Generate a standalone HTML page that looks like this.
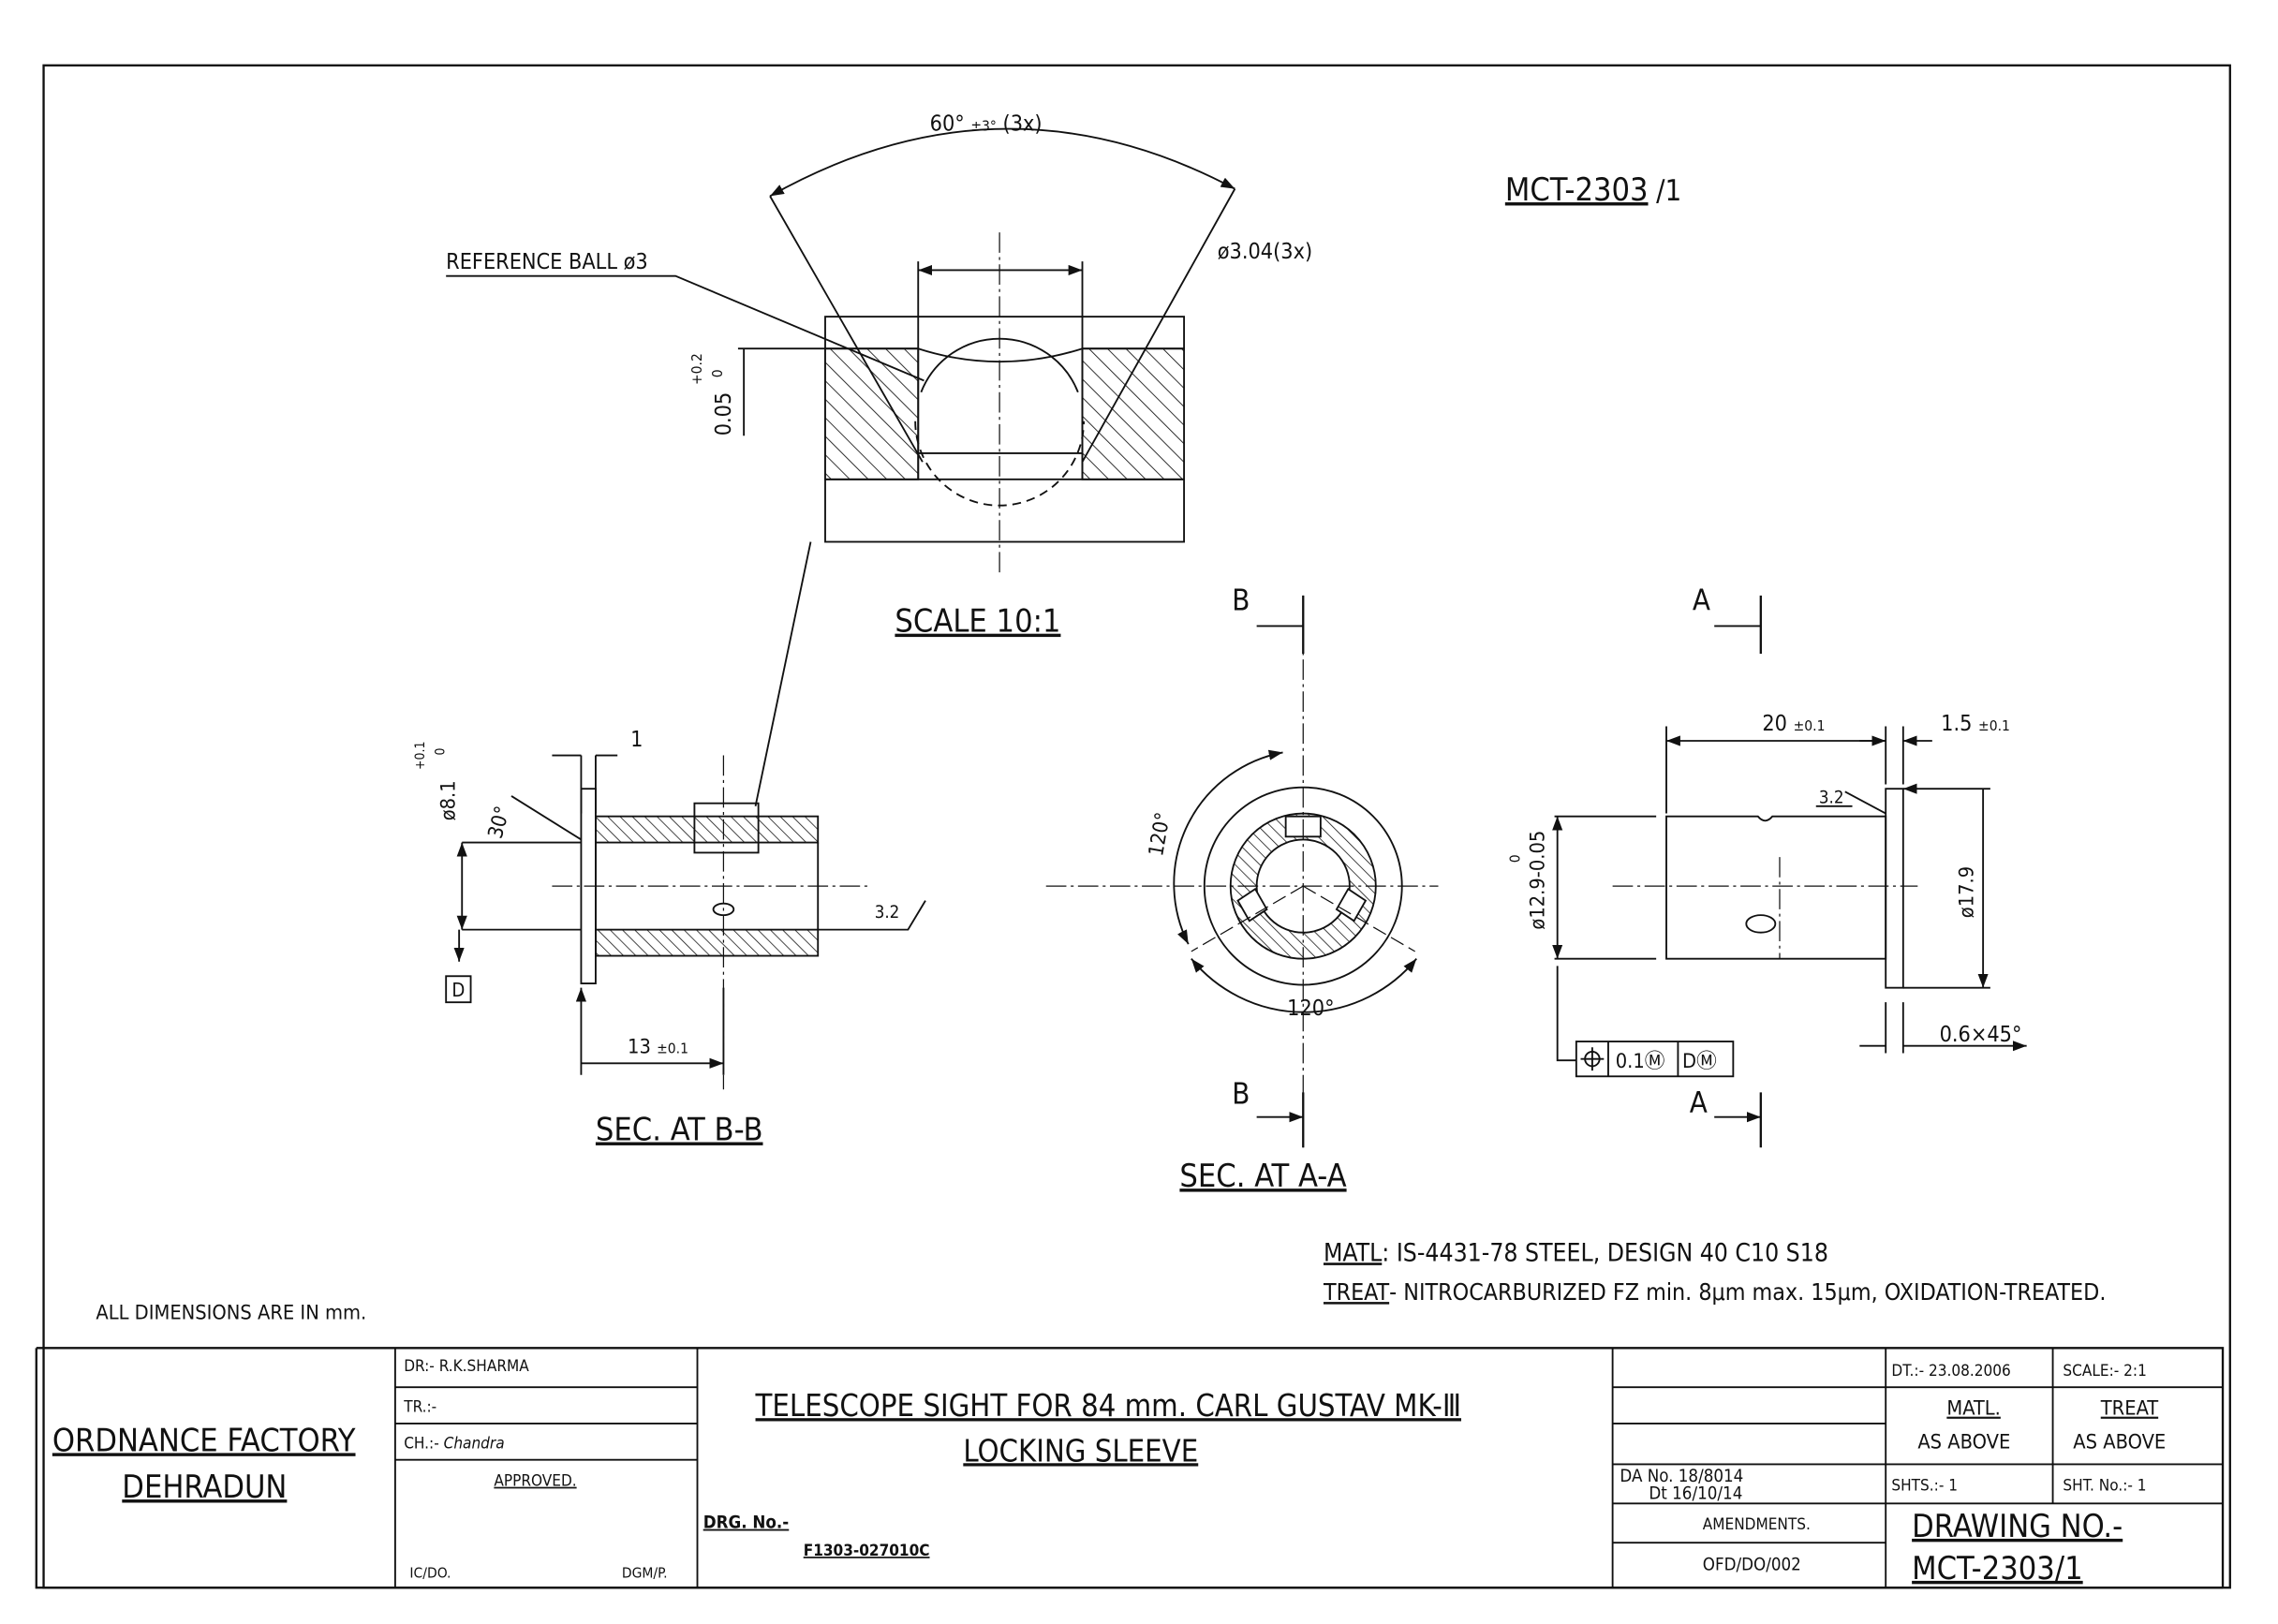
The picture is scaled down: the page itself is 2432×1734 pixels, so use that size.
<!DOCTYPE html>
<html><head><style>
html,body{margin:0;padding:0;background:#fff;}
svg{display:block}
text{font-family:"DejaVu Sans Condensed","Liberation Sans",sans-serif;fill:#111}
</style></head><body>
<svg width="2432" height="1734" viewBox="0 0 1568 1118" xmlns="http://www.w3.org/2000/svg">
<defs>
<pattern id="h" patternUnits="userSpaceOnUse" width="9" height="9" patternTransform="rotate(-45)">
<rect width="9" height="9" fill="#fff"/><line x1="0" y1="0" x2="0" y2="9" stroke="#111" stroke-width="1.1"/></pattern>
<pattern id="h2" patternUnits="userSpaceOnUse" width="6" height="6" patternTransform="rotate(-45)">
<rect width="6" height="6" fill="#fff"/><line x1="0" y1="0" x2="0" y2="6" stroke="#111" stroke-width="1"/></pattern>
<marker id="a" markerWidth="8" markerHeight="6" refX="8" refY="3" orient="auto-start-reverse"><path d="M0,0 L8,3 L0,6 z" fill="#111"/></marker>
</defs>
<g stroke="#111" fill="none" stroke-width="1.2">
<rect x="30" y="45" width="1505" height="1048" stroke-width="1.5"/>
<path d="M25 928 H1530 V1093 M25 928 V1093 H1530" stroke-width="1.5"/>
<path d="M272 928 V1093 M480 928 V1093 M1110 928 V1093 M1298 928 V1093 M1413 928 V1035"/>
<path d="M272 955 H480 M272 980 H480 M272 1005 H480"/>
<path d="M1110 955 H1298 M1110 980 H1298 M1110 1008 H1298 M1110 1035 H1298 M1110 1062 H1298"/>
<path d="M1298 955 H1530 M1298 1008 H1530 M1298 1035 H1530"/>

<!-- top detail -->
<rect x="568" y="218" width="247" height="155"/>
<rect x="568" y="240" width="64" height="90" fill="url(#h)"/>
<rect x="745" y="240" width="70" height="90" fill="url(#h)"/>
<path d="M568 240 H632 M745 240 H815 M568 330 H815 M632 312 H745"/>
<path d="M632 240 Q688 258 745 240"/>
<path d="M632 180 V330 M745 180 V330"/>
<path d="M634 270 A58 58 0 0 1 742 270"/>
<path d="M630 290 A58 58 0 0 0 746 290" stroke-dasharray="6 4"/>
<path d="M688 160 V395" stroke-dasharray="14 3 2 3" stroke-width="0.8"/>
<path d="M632 186 H745" marker-start="url(#a)" marker-end="url(#a)"/>
<path d="M530 135 Q690 45 850 130" marker-start="url(#a)" marker-end="url(#a)"/>
<path d="M530 135 L635 318 M850 130 L745 318"/>
<path d="M307 190 H465 L636 262"/>
<path d="M508 240 H568 M512 240 V300"/>
<path d="M558 373 L520 555"/>

<!-- section B-B -->
<path d="M400 543 H410 V677 H400 Z"/>
<rect x="410" y="562" width="153" height="18" fill="url(#h2)"/>
<rect x="410" y="640" width="153" height="18" fill="url(#h2)"/>
<rect x="478" y="553" width="44" height="34"/>
<path d="M410 562 V658 M563 580 V640"/>
<path d="M380 610 H600" stroke-dasharray="14 3 2 3" stroke-width="0.8"/>
<path d="M498 520 V750" stroke-dasharray="14 3 2 3" stroke-width="0.8"/>
<ellipse cx="498" cy="626" rx="7" ry="4"/>
<path d="M318 580 H400 M318 640 H400" />
<path d="M318 580 V640" marker-start="url(#a)" marker-end="url(#a)"/>
<path d="M352 548 L400 578 M380 520 H400 M410 520 H425"/>
<path d="M400 520 V560 M410 520 V560"/>
<path d="M400 680 V740 M498 680 V740 M400 732 H498" marker-start="url(#a)" marker-end="url(#a)"/>
<path d="M563 640 H625 L637 620"/>
<path d="M316 640 L316 662" marker-end="url(#a)"/>
<rect x="307" y="672" width="17" height="18"/>

<!-- section A-A -->
<circle cx="897" cy="610" r="68"/>
<circle cx="897" cy="610" r="50" fill="url(#h2)"/>
<circle cx="897" cy="610" r="32" fill="#fff"/>
<path d="M885 562 h24 v14 h-24z M852 620 l12 -8 l8 14 l-12 8z M940 620 l-12 -8 l-8 14 l12 8z" fill="#fff"/>
<path d="M897 410 V790 M720 610 H990" stroke-dasharray="14 3 2 3" stroke-width="0.8"/>
<path d="M897 610 L820 655 M897 610 L974 655" stroke-dasharray="10 4" stroke-width="0.8"/>
<path d="M883 518 A92 92 0 0 0 818 650" marker-start="url(#a)" marker-end="url(#a)"/>
<path d="M820 660 A100 100 0 0 0 975 660" marker-start="url(#a)" marker-end="url(#a)"/>
<path d="M865 431 H897 M865 769 H897" marker-end="url(#a)"/>
<path d="M1180 431 H1212 M1180 769 H1212" marker-end="url(#a)"/>
<path d="M1212 410 V450 M1212 752 V790" stroke-width="1.5"/>
<path d="M897 410 V450 M897 752 V790" stroke-width="1.5"/>

<!-- right view -->
<path d="M1147 562 H1210 Q1215 568 1220 562 H1298 V660 H1147 Z"/>
<rect x="1298" y="543" width="12" height="137"/>
<path d="M1110 610 H1320 M1225 590 V660" stroke-dasharray="14 3 2 3" stroke-width="0.8"/>
<ellipse cx="1212" cy="636" rx="10" ry="6"/>
<path d="M1147 500 V560 M1298 500 V540 M1310 500 V540"/>
<path d="M1147 510 H1298" marker-start="url(#a)" marker-end="url(#a)"/>
<path d="M1280 510 H1298 M1330 510 H1310" marker-end="url(#a)"/>
<path d="M1070 562 H1140 M1070 660 H1140"/>
<path d="M1072 562 V660" marker-start="url(#a)" marker-end="url(#a)"/>
<path d="M1310 543 H1370 M1310 680 H1370 M1365 543 V680" marker-start="url(#a)" marker-end="url(#a)"/>
<path d="M1270 545 L1298 560 M1250 555 H1275"/>
<path d="M1298 690 V725 M1310 690 V725 M1280 720 H1298 M1330 720 H1310 L1395 720" marker-end="url(#a)"/>
<path d="M1072 665 V730 H1085"/>
<rect x="1085" y="717" width="108" height="24"/>
<path d="M1107 717 V741 M1155 717 V741"/>
<circle cx="1096" cy="729" r="5"/><path d="M1096 721 V737 M1088 729 H1104"/>
</g>
<g font-size="15">
<text x="640" y="90">60° <tspan font-size="10">±3°</tspan> (3x)</text>
<text x="307" y="185">REFERENCE BALL ø3</text>
<text x="838" y="178">ø3.04(3x)</text>
<text transform="translate(503 300) rotate(-90)">0.05</text>
<text font-size="10" transform="translate(483 265) rotate(-90)">+0.2</text>
<text font-size="10" transform="translate(497 260) rotate(-90)">0</text>
<text x="1036" y="138" font-size="22" text-decoration="underline">MCT-2303</text><text x="1140" y="138" font-size="20">/1</text>
<text x="616" y="435" font-size="22" text-decoration="underline">SCALE 10:1</text>
<text x="848" y="420" font-size="20">B</text><text x="848" y="760" font-size="20">B</text>
<text x="1165" y="420" font-size="20">A</text><text x="1163" y="766" font-size="20">A</text>
<text x="434" y="514">1</text>
<text font-size="14" transform="translate(313 565) rotate(-90)">ø8.1</text>
<text font-size="9" transform="translate(292 530) rotate(-90)">+0.1</text>
<text font-size="9" transform="translate(306 520) rotate(-90)">0</text>
<text font-size="14" transform="translate(345 578) rotate(-75)">30°</text>
<text x="311" y="686" font-size="13">D</text>
<text x="602" y="632" font-size="12">3.2</text>
<text x="432" y="725" font-size="14">13 <tspan font-size="10">±0.1</tspan></text>
<text x="410" y="785" font-size="22" text-decoration="underline">SEC. AT B-B</text>
<text x="812" y="817" font-size="22" text-decoration="underline">SEC. AT A-A</text>
<text font-size="14" transform="translate(800 590) rotate(-80)">120°</text>
<text x="886" y="699">120°</text>
<text x="1213" y="503">20 <tspan font-size="10">±0.1</tspan></text>
<text x="1336" y="503">1.5 <tspan font-size="10">±0.1</tspan></text>
<text x="1252" y="553" font-size="12">3.2</text>
<text font-size="14" transform="translate(1063 640) rotate(-90)">ø12.9-0.05</text>
<text font-size="10" transform="translate(1046 594) rotate(-90)">0</text>
<text font-size="14" transform="translate(1358 632) rotate(-90)">ø17.9</text>
<text x="1335" y="717">0.6×45°</text>
<text x="1112" y="735" font-size="14">0.1Ⓜ</text><text x="1158" y="735" font-size="14">DⓂ</text>
<text x="911" y="868" font-size="17"><tspan text-decoration="underline">MATL</tspan>: IS-4431-78 STEEL, DESIGN 40 C10 S18</text>
<text x="911" y="895" font-size="16"><tspan text-decoration="underline">TREAT</tspan>- NITROCARBURIZED FZ min. 8μm max. 15μm, OXIDATION-TREATED.</text>
<text x="66" y="908" font-size="14">ALL DIMENSIONS ARE IN mm.</text>
<text x="36" y="999" font-size="22" text-decoration="underline">ORDNANCE FACTORY</text>
<text x="84" y="1031" font-size="22" text-decoration="underline">DEHRADUN</text>
<text x="278" y="944" font-size="11">DR:-  R.K.SHARMA</text>
<text x="278" y="972" font-size="11">TR.:-</text>
<text x="278" y="997" font-size="11">CH.:- <tspan font-style="italic">Chandra</tspan></text>
<text x="340" y="1023" font-size="11" text-decoration="underline">APPROVED.</text>
<text x="282" y="1086" font-size="10">IC/DO.</text><text x="428" y="1086" font-size="10">DGM/P.</text>
<text x="520" y="975" font-size="21" text-decoration="underline">TELESCOPE SIGHT FOR 84 mm. CARL GUSTAV MK-Ⅲ</text>
<text x="663" y="1006" font-size="21" text-decoration="underline">LOCKING SLEEVE</text>
<text x="484" y="1052" font-size="12" font-weight="bold" text-decoration="underline">DRG. No.-</text>
<text x="553" y="1071" font-size="11" font-weight="bold" text-decoration="underline">F1303-027010C</text>
<text x="1115" y="1020" font-size="12">DA No. 18/8014</text>
<text x="1135" y="1032" font-size="12">Dt 16/10/14</text>
<text x="1172" y="1053" font-size="11">AMENDMENTS.</text>
<text x="1172" y="1081" font-size="12">OFD/DO/002</text>
<text x="1302" y="947" font-size="11">DT.:- 23.08.2006</text>
<text x="1420" y="947" font-size="11">SCALE:-  2:1</text>
<text x="1340" y="974" font-size="14" text-decoration="underline">MATL.</text>
<text x="1446" y="974" font-size="14" text-decoration="underline">TREAT</text>
<text x="1320" y="997" font-size="14">AS ABOVE</text>
<text x="1427" y="997" font-size="14">AS ABOVE</text>
<text x="1302" y="1026" font-size="11">SHTS.:-  1</text>
<text x="1420" y="1026" font-size="11">SHT. No.:- 1</text>
<text x="1316" y="1058" font-size="22" text-decoration="underline">DRAWING NO.-</text>
<text x="1316" y="1087" font-size="22" text-decoration="underline">MCT-2303/1</text>
</g>
</svg>
</body></html>
